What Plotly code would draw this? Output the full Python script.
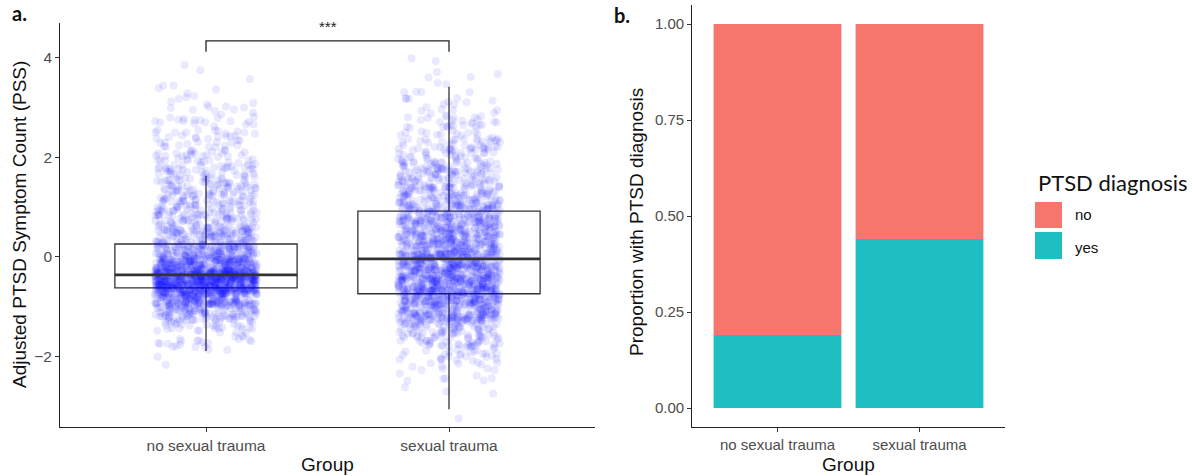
import plotly.graph_objects as go

W, H = 1192, 476

# ---------------- data ----------------
groups = ["no sexual trauma", "sexual trauma"]

# histogram of adjusted PSS values (bin lower edges, width 0.25), counts
bin_edges = [-3.25, -3.0, -2.75, -2.5, -2.25, -2.0, -1.75, -1.5, -1.25, -1.0, -0.75, -0.5,
             -0.25, 0.0, 0.25, 0.5, 0.75, 1.0, 1.25, 1.5, 1.75, 2.0, 2.25, 2.5, 2.75,
             3.0, 3.25, 3.5, 3.75]
counts_no_st = [0, 0, 0, 0, 2, 7, 18, 38, 90, 180, 330, 360, 210, 140, 90, 72,
                63, 57, 50, 42, 36, 28, 22, 18, 12, 9, 5, 2, 1]
counts_st = [1, 0, 3, 9, 18, 33, 52, 75, 128, 165, 180, 180, 168, 150, 135, 120,
             105, 90, 75, 63, 52, 42, 30, 21, 15, 10, 6, 4, 2]
bin_width = 0.25

# boxplot statistics
box_q1 = [-0.62, -0.74]
box_median = [-0.36, -0.04]
box_q3 = [0.26, 0.92]
box_lower = [-1.89, -3.06]
box_upper = [1.63, 3.42]

# proportions with PTSD diagnosis
prop_yes = [0.19, 0.44]
prop_no = [0.81, 0.56]

# ---------------- helpers ----------------
def px(x):
    return x / W

def py(y):
    return 1 - y / H

M64 = (1 << 64) - 1

def hash01(n):
    """Deterministic splitmix hash -> [0,1), used only to spread marks within a bin."""
    z = (n * 0x9E3779B97F4A7C15) & M64
    z = ((z ^ (z >> 30)) * 0xBF58476D1CE4E5B9) & M64
    z = ((z ^ (z >> 27)) * 0x94D049BB133111EB) & M64
    z ^= z >> 31
    return (z >> 11) / float(1 << 53)

def layout_points(center, edges, counts, jitter=0.21, offset=0):
    """Spread each bin's count over the bin (y) and jitter band (x) deterministically."""
    xs, ys = [], []
    i = offset
    for lo, n in zip(edges, counts):
        for k in range(n):
            i += 1
            u = hash01(2 * i + 1)
            v = hash01(2 * i + 2)
            xs.append(center + (2 * u - 1) * jitter)
            ys.append(lo + v * bin_width)
    return xs, ys

fig = go.Figure()

line_col = "#333333"

# ---- left panel: boxes ----
for i, g in enumerate(groups):
    fig.add_trace(go.Box(
        x=[i + 1], q1=[box_q1[i]], median=[box_median[i]], q3=[box_q3[i]],
        lowerfence=[box_lower[i]], upperfence=[box_upper[i]],
        width=0.75, whiskerwidth=0, boxpoints=False,
        fillcolor="white", line=dict(color=line_col, width=1.3),
        xaxis="x", yaxis="y", showlegend=False, hoverinfo="skip"))

# jittered points
for i, (g, cnt) in enumerate(zip(groups, [counts_no_st, counts_st])):
    xs, ys = layout_points(i + 1, bin_edges, cnt, offset=i * 10007)
    fig.add_trace(go.Scatter(
        x=xs, y=ys, mode="markers",
        marker=dict(color="rgba(0,0,255,0.085)", size=8, line=dict(width=0)),
        xaxis="x", yaxis="y", showlegend=False, hoverinfo="skip"))

# thick median lines
for i in range(2):
    fig.add_trace(go.Scatter(
        x=[i + 1 - 0.375, i + 1 + 0.375], y=[box_median[i], box_median[i]],
        mode="lines", line=dict(color=line_col, width=2.6),
        xaxis="x", yaxis="y", showlegend=False, hoverinfo="skip"))

# significance bracket
fig.add_trace(go.Scatter(
    x=[1, 1, 2, 2], y=[4.12, 4.34, 4.34, 4.12], mode="lines",
    line=dict(color="#222222", width=1.3),
    xaxis="x", yaxis="y", showlegend=False, hoverinfo="skip"))

# ---- right panel: stacked bars ----
teal = "#1FBEC3"
salmon = "#F6766E"
fig.add_trace(go.Bar(x=[1, 2], y=prop_yes, width=0.9, marker=dict(color=teal, line=dict(width=0)),
                     name="yes", xaxis="x2", yaxis="y2", showlegend=False))
fig.add_trace(go.Bar(x=[1, 2], y=prop_no, base=prop_yes, width=0.9,
                     marker=dict(color=salmon, line=dict(width=0)),
                     name="no", xaxis="x2", yaxis="y2", showlegend=False))

FONT = "Liberation Sans, Arial"
tick_font = dict(family=FONT, size=15.5, color="#4D4D4D")
tick_font2 = dict(family=FONT, size=15, color="#4D4D4D")
title_font = dict(family=FONT, size=19, color="#111111")

axis_common = dict(showline=True, linecolor="#222222", linewidth=1.2, ticks="outside",
                   ticklen=4, tickcolor="#333333", tickwidth=1.1, showgrid=False,
                   zeroline=False)

fig.update_layout(
    width=W, height=H, margin=dict(l=0, r=0, t=0, b=0),
    paper_bgcolor="white", plot_bgcolor="white",
    barmode="overlay",
    xaxis=dict(domain=[px(60.2), px(594.8)], range=[0.4, 2.6], tickvals=[1, 2],
               ticktext=groups, anchor="y", tickfont=tick_font, **axis_common),
    yaxis=dict(domain=[py(427), py(23)], range=[-3.417, 4.70], tickvals=[-2, 0, 2, 4],
               ticktext=["\u22122", "0", "2", "4"], anchor="x", tickfont=tick_font,
               **axis_common),
    xaxis2=dict(domain=[px(692.3), px(1004.7)], range=[0.4, 2.6], tickvals=[1, 2],
                ticktext=groups, anchor="y2", tickfont=tick_font2, **axis_common),
    yaxis2=dict(domain=[py(427.2), py(4.8)], range=[-0.05, 1.05],
                tickvals=[0, 0.25, 0.5, 0.75, 1.0], tickformat=".2f", anchor="x2",
                tickfont=tick_font2, **axis_common),
)

ann = []
# significance stars
ann.append(dict(x=1.5, y=4.62, xref="x", yref="y", text="***", showarrow=False,
                font=dict(family=FONT, size=15, color="#222222")))
# panel labels
ann.append(dict(x=px(10), y=py(13), xref="paper", yref="paper", text="<b>a.</b>",
                showarrow=False, xanchor="left", yanchor="middle",
                font=dict(family="Lato, Open Sans", size=20, color="#111111")))
ann.append(dict(x=px(612), y=py(15), xref="paper", yref="paper", text="<b>b.</b>",
                showarrow=False, xanchor="left", yanchor="middle",
                font=dict(family="Lato, Open Sans", size=20, color="#111111")))
# axis titles
ann.append(dict(x=px(19), y=py(225), xref="paper", yref="paper",
                text="Adjusted PTSD Symptom Count (PSS)", textangle=-90,
                showarrow=False, xanchor="center", yanchor="middle", font=title_font))
ann.append(dict(x=px(327), y=py(464), xref="paper", yref="paper", text="Group",
                showarrow=False, xanchor="center", yanchor="middle", font=title_font))
ann.append(dict(x=px(636), y=py(222), xref="paper", yref="paper",
                text="Proportion with PTSD diagnosis", textangle=-90,
                showarrow=False, xanchor="center", yanchor="middle",
                font=dict(family=FONT, size=19, color="#111111")))
ann.append(dict(x=px(848), y=py(464), xref="paper", yref="paper", text="Group",
                showarrow=False, xanchor="center", yanchor="middle", font=title_font))
# legend
ann.append(dict(x=px(1036), y=py(182), xref="paper", yref="paper", text="PTSD diagnosis",
                showarrow=False, xanchor="left", yanchor="middle",
                font=dict(family="Lato, Open Sans", size=22, color="#111111")))
ann.append(dict(x=px(1073), y=py(215), xref="paper", yref="paper", text="no",
                showarrow=False, xanchor="left", yanchor="middle",
                font=dict(family=FONT, size=15, color="#111111")))
ann.append(dict(x=px(1073), y=py(247), xref="paper", yref="paper", text="yes",
                showarrow=False, xanchor="left", yanchor="middle",
                font=dict(family=FONT, size=15, color="#111111")))

shapes = [
    dict(type="rect", xref="paper", yref="paper", x0=px(1035), x1=px(1062),
         y0=py(228), y1=py(202), fillcolor=salmon, line=dict(width=0)),
    dict(type="rect", xref="paper", yref="paper", x0=px(1035), x1=px(1062),
         y0=py(259), y1=py(232), fillcolor=teal, line=dict(width=0)),
]
fig.update_layout(annotations=ann, shapes=shapes)

fig.write_html("out.html")
